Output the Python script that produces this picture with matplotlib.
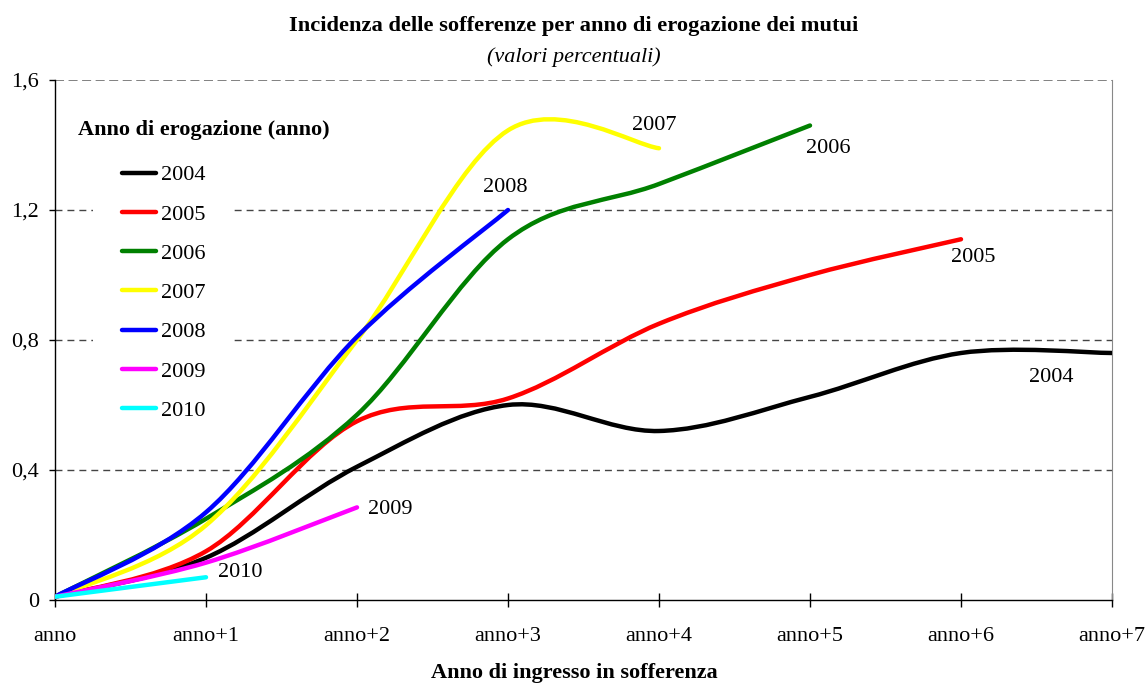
import matplotlib.pyplot as plt
from matplotlib.path import Path
from matplotlib.patches import PathPatch
from matplotlib.lines import Line2D

plt.rcParams['font.family'] = ['Liberation Serif', 'DejaVu Serif']

# dati
anni_label = ['anno', 'anno+1', 'anno+2', 'anno+3', 'anno+4', 'anno+5', 'anno+6', 'anno+7']
serie = ['2004', '2005', '2006', '2007', '2008', '2009', '2010']
v2004 = [0.01, 0.13, 0.41, 0.60, 0.52, 0.625, 0.76, 0.76]
v2005 = [0.01, 0.15, 0.55, 0.62, 0.85, 1.00, 1.11]
v2006 = [0.01, 0.25, 0.57, 1.11, 1.28, 1.46]
v2007 = [0.01, 0.23, 0.80, 1.445, 1.39]
v2008 = [0.01, 0.27, 0.81, 1.20]
v2009 = [0.01, 0.115, 0.285]
v2010 = [0.01, 0.07]
colori = ['#000000', '#ff0000', '#008000', '#ffff00', '#0000ff', '#ff00ff', '#00ffff']
valori = [v2004, v2005, v2006, v2007, v2008, v2009, v2010]
# posizione etichette a fine linea (x, y in dati)
etichette = [(6.6, 0.685), (6.08, 1.055), (5.12, 1.39), (3.97, 1.46), (2.98, 1.27), (2.22, 0.28), (1.23, 0.085)]


def curva_liscia(ys):
    # bezier stile Excel (catmull-rom) attraverso i punti
    xs = list(range(len(ys)))
    pts = list(zip(xs, ys))
    verts = [pts[0]]
    codes = [Path.MOVETO]
    n = len(pts)
    for i in range(n - 1):
        p0 = pts[i - 1] if i > 0 else pts[i]
        p1 = pts[i]
        p2 = pts[i + 1]
        p3 = pts[i + 2] if i + 2 < n else pts[i + 1]
        c1 = (p1[0] + (p2[0] - p0[0]) / 6, p1[1] + (p2[1] - p0[1]) / 6)
        c2 = (p2[0] - (p3[0] - p1[0]) / 6, p2[1] - (p3[1] - p1[1]) / 6)
        verts += [c1, c2, p2]
        codes += [Path.CURVE4] * 3
    return Path(verts, codes)


fig = plt.figure(figsize=(11.48, 6.84), dpi=100)
ax = fig.add_axes([55 / 1148, 1 - 600 / 684, 1057 / 1148, 520 / 684])

for ys, c in zip(valori, colori):
    ax.add_patch(PathPatch(curva_liscia(ys), fill=False, edgecolor=c, lw=3.2,
                           capstyle='round', zorder=3))

for (tx, ty), s in zip(etichette, serie):
    ax.text(tx, ty, s, fontsize=16, ha='center', va='center', zorder=4)

ax.set_xlim(0, 7)
ax.set_ylim(0, 1.6)
ax.set_xticks(range(8))
ax.set_xticklabels(anni_label, fontsize=16)
ax.set_yticks([0, 0.4, 0.8, 1.2, 1.6])
ax.set_yticklabels(['0', '0,4', '0,8', '1,2', '1,6'], fontsize=16)
ax.tick_params(axis='x', direction='inout', length=10, width=1, pad=14.3)
ax.tick_params(axis='y', length=4.5, width=1, pad=7)

for yv in [0.4, 0.8, 1.2]:
    ax.axhline(yv, color='#444444', lw=1, ls=(0, (5, 3.6)), zorder=1)
ax.axhline(1.6, color='#777777', lw=1.3, ls=(0, (5, 2.5)), zorder=1)

ax.spines['top'].set_visible(False)
ax.spines['right'].set_color('#888888')
ax.spines['left'].set_linewidth(1)
ax.spines['bottom'].set_linewidth(1)

fig.text(0.5, 1 - 26 / 684, 'Incidenza delle sofferenze per anno di erogazione dei mutui',
         fontsize=16.2, fontweight='bold', ha='center', va='center')
fig.text(0.5, 1 - 57 / 684, '(valori percentuali)', fontsize=16, style='italic',
         ha='center', va='center')
fig.text(0.5, 1 - 673 / 684, 'Anno di ingresso in sofferenza', fontsize=16,
         fontweight='bold', ha='center', va='center')

fig.text(78 / 1148, 1 - 130 / 684, 'Anno di erogazione (anno)', fontsize=16,
         fontweight='bold', ha='left', va='center', zorder=6)

handles = [Line2D([], [], color=c, lw=3.2, solid_capstyle='round') for c in colori]
leg = ax.legend(handles, serie, loc='upper left', bbox_to_anchor=(93 / 1148, 1 - 136 / 684),
                bbox_transform=fig.transFigure, frameon=True, fontsize=16,
                handlelength=1.55, handletextpad=0.2, labelspacing=0.84,
                borderpad=1.3, borderaxespad=0)
leg.get_frame().set_edgecolor('none')
leg.get_frame().set_facecolor('white')
leg.get_frame().set_alpha(1)
leg.set_zorder(5)

fig.savefig('out.png', dpi=100)
